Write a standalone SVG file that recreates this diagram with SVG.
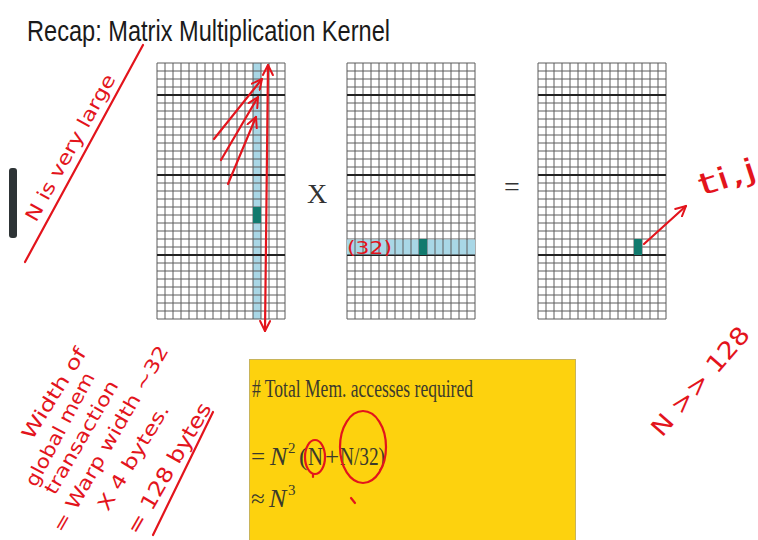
<svg xmlns="http://www.w3.org/2000/svg" width="758" height="540" viewBox="0 0 758 540">
  <style>
    .thin { fill: none; stroke: #5c5c5c; stroke-width: 1; }
    .heavy { fill: none; stroke: #222222; stroke-width: 2; }
    .band { fill: #a9d7e6; }
    .cell { fill: #127a6e; }
    .op { font-family: "Liberation Serif", serif; font-size: 28px; fill: #333333; }
    .box { font-family: "Liberation Serif", serif; fill: #3b3a2c; }
    .ink { fill: none; stroke: #e3141c; stroke-width: 2.2; stroke-linecap: round; stroke-linejoin: round; }
    .hand { font-family: "DejaVu Sans", sans-serif; fill: #e3141c; }
  </style>
  <defs>
    <g id="grid">
      <rect x="0" y="0" width="128" height="256" fill="none"/>
      <path class="thin" d="M0 0V256M8 0V256M16 0V256M24 0V256M32 0V256M40 0V256M48 0V256M56 0V256M64 0V256M72 0V256M80 0V256M88 0V256M96 0V256M104 0V256M112 0V256M120 0V256M128 0V256M0 0H128M0 8H128M0 16H128M0 24H128M0 40H128M0 48H128M0 56H128M0 64H128M0 72H128M0 80H128M0 88H128M0 96H128M0 104H128M0 120H128M0 128H128M0 136H128M0 144H128M0 152H128M0 160H128M0 168H128M0 176H128M0 184H128M0 200H128M0 208H128M0 216H128M0 224H128M0 232H128M0 240H128M0 248H128M0 256H128"/>
      <path class="heavy" d="M0 32H128M0 112H128M0 192H128"/>
    </g>
    <marker id="ah" viewBox="0 0 12 12" refX="11" refY="6" markerWidth="12" markerHeight="12" orient="auto-start-reverse" markerUnits="userSpaceOnUse">
      <path d="M1 1 L11 6 L1 11" fill="none" stroke="#e3141c" stroke-width="2" stroke-linecap="round" stroke-linejoin="round"/>
    </marker>
  </defs>

  <rect x="0" y="0" width="758" height="540" fill="#ffffff"/>

  <text id="title" x="27" y="41" font-family="Liberation Sans, sans-serif" font-size="30" textLength="363" lengthAdjust="spacingAndGlyphs" fill="#1a1a1a">Recap: Matrix Multiplication Kernel</text>

  <rect id="side-bar" x="9" y="168" width="8" height="70" rx="3" fill="#2e3436"/>

  <g id="matrixA">
    <rect class="band" x="253" y="63" width="8" height="256"/>
    <use href="#grid" transform="translate(157,63)"/>
    <rect class="cell" x="253" y="207" width="8" height="16"/>
  </g>

  <text id="times" class="op" x="317" y="203" text-anchor="middle">X</text>

  <g id="matrixB">
    <use href="#grid" transform="translate(347,63)"/>
    <rect class="band" x="347" y="239.5" width="128" height="15"/>
    <path class="thin" d="M355 239V255M363 239V255M371 239V255M379 239V255M387 239V255M395 239V255M403 239V255M411 239V255M419 239V255M427 239V255M435 239V255M443 239V255M451 239V255M459 239V255M467 239V255"/>
    <rect class="cell" x="419" y="239" width="8" height="16"/>
  </g>

  <text id="equals" class="op" x="512" y="196" text-anchor="middle">=</text>

  <g id="matrixC">
    <use href="#grid" transform="translate(538,63)"/>
    <rect class="cell" x="634" y="239" width="8" height="16"/>
  </g>

  <g id="formula-box">
    <rect x="249.5" y="359.5" width="326" height="190" fill="#fdd20e" stroke="#c8b45a" stroke-width="1"/>
    <text class="box" x="252" y="397" font-size="25" textLength="221" lengthAdjust="spacingAndGlyphs"># Total Mem. accesses required</text>
    <text class="box" x="251" y="465" font-size="25">=</text>
    <text class="box" x="270" y="465" font-size="26" font-style="italic">N</text>
    <text class="box" x="288" y="453" font-size="15">2</text>
    <text class="box" x="299" y="465" font-size="25">(</text>
    <text class="box" x="308" y="465" font-size="25" textLength="15" lengthAdjust="spacingAndGlyphs">N</text>
    <text class="box" x="325" y="465" font-size="25">+</text>
    <text class="box" x="340" y="465" font-size="25" textLength="45" lengthAdjust="spacingAndGlyphs">N/32)</text>
    <text class="box" x="251" y="507" font-size="25">≈</text>
    <text class="box" x="269" y="507" font-size="26" font-style="italic">N</text>
    <text class="box" x="288" y="495" font-size="15">3</text>
  </g>

  <g id="connectors">
    <path class="ink" d="M268 65 L265 331" marker-start="url(#ah)" marker-end="url(#ah)"/>
    <path class="ink" d="M214 139 L262 79" marker-end="url(#ah)"/>
    <path class="ink" d="M221 160 L258 97" marker-end="url(#ah)"/>
    <path class="ink" d="M228 184 L256 117" marker-end="url(#ah)"/>
    <path class="ink" d="M644 244 L686 206" marker-end="url(#ah)"/>
  </g>

  <g id="annotations">
    <path class="ink" d="M25 262 L143 45"/>
    <text class="hand" transform="translate(36,223) rotate(-61)" font-size="19" textLength="165" lengthAdjust="spacingAndGlyphs">N is very large</text>

    <text class="hand" x="347" y="254" font-size="17" textLength="45" lengthAdjust="spacingAndGlyphs">(32)</text>

    <text class="hand" transform="translate(702,196) rotate(-18)" font-size="30" textLength="60" lengthAdjust="spacingAndGlyphs">ti,j</text>

    <text class="hand" transform="translate(662,438) rotate(-49)" font-size="24" textLength="136" lengthAdjust="spacingAndGlyphs">N &gt;&gt; 128</text>

    <text class="hand" transform="translate(32,441) rotate(-58)" font-size="19" textLength="104" lengthAdjust="spacingAndGlyphs">Width of</text>
    <text class="hand" transform="translate(36,488) rotate(-62)" font-size="19" textLength="126" lengthAdjust="spacingAndGlyphs">global mem</text>
    <text class="hand" transform="translate(55,496) rotate(-60)" font-size="19" textLength="128" lengthAdjust="spacingAndGlyphs">transaction</text>
    <text class="hand" transform="translate(63,534) rotate(-60)" font-size="19" textLength="212" lengthAdjust="spacingAndGlyphs">= Warp width ~32</text>
    <text class="hand" transform="translate(108,512) rotate(-59)" font-size="19" textLength="120" lengthAdjust="spacingAndGlyphs">X 4 bytes.</text>
    <text class="hand" transform="translate(138,536) rotate(-60)" font-size="21" textLength="148" lengthAdjust="spacingAndGlyphs">= 128 bytes</text>
    <path class="ink" d="M153 535 L213 412"/>

    <ellipse class="ink" cx="315" cy="457" rx="10" ry="17"/>
    <ellipse class="ink" cx="363" cy="447" rx="23" ry="36"/>
    <path class="ink" d="M351 498 L355 503" stroke-width="1.5"/>
    <path class="ink" d="M313 474 L313 477" stroke-width="1.2"/>
  </g>
</svg>
